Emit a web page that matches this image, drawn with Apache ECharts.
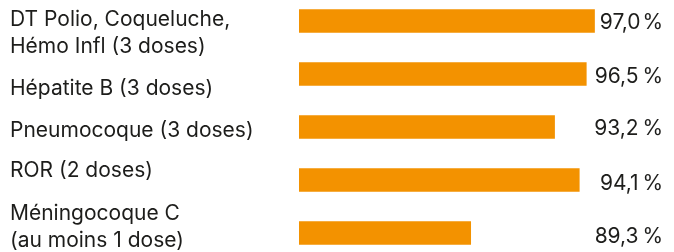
<!DOCTYPE html>
<html>
<head>
<meta charset="utf-8">
<script src="https://cdn.jsdelivr.net/npm/echarts@6/dist/echarts.min.js"></script>
<style>
  html, body { margin: 0; background: #fff; }
  #chart { width: 674px; height: 252px; }
</style>
</head>
<body>
<div id="chart"></div>
<script>
const vaccines = [
  'DT Polio, Coqueluche,\nHémo Infl (3 doses)',
  'Hépatite B (3 doses)',
  'Pneumocoque (3 doses)',
  'ROR (2 doses)',
  'Méningocoque C\n(au moins 1 dose)'
];
// printed coverage rates, as written at the right of each bar
const rateLabels = ['97,0\u200A%', '96,5\u2009%', '93,2\u2009%', '94,1\u2009%', '89,3\u2009%'];
// bar lengths as drawn in the source (0-100 scale) - they don't follow the printed rates exactly
const barLengths = [97.0, 94.3, 83.9, 92.0, 56.4];

const ORANGE = '#f39200';
const TEXT = '#1d1d1b';
const FONT = 'Inter';

// labels don't sit exactly centred on their bars in the source
const pad = d => d >= 0 ? [2 * d, 0, 0, 0] : [0, 0, -2 * d, 0];
function richFor(shifts, base) {
  const rich = {};
  shifts.forEach((d, i) => { rich['s' + i] = Object.assign({ padding: pad(d) }, base); });
  return rich;
}
const tokens = (v, i) => v.split('\n').map(l => '{s' + i + '|' + l + '}').join('\n');

const leftStyle = { color: TEXT, fontFamily: FONT, fontSize: 21, lineHeight: 27.5 };
const rightStyle = { color: TEXT, fontFamily: FONT, fontSize: 21 };

const chart = echarts.init(document.getElementById('chart'));
chart.setOption({
  animation: false,
  grid: { left: 299, top: -5.5, width: 305, height: 265, outerBoundsMode: 'none', containLabel: false },
  xAxis: {
    type: 'value', min: 0, max: 100,
    show: false
  },
  yAxis: [{
    type: 'category',
    inverse: true,
    data: vaccines,
    axisLine: { show: false },
    axisTick: { show: false },
    axisLabel: Object.assign({
      interval: 0, hideOverlap: false,
      align: 'left', margin: 289,
      formatter: tokens,
      rich: richFor([12, 14.4, 3.2, -9.3, -5.8], leftStyle)
    }, leftStyle)
  }, {
    type: 'category',
    inverse: true,
    position: 'right',
    data: rateLabels,
    axisLine: { show: false },
    axisTick: { show: false },
    axisLabel: Object.assign({
      interval: 0, hideOverlap: false,
      align: 'right', margin: 59,
      formatter: tokens,
      rich: richFor([1.5, 3, 2, 3.5, 3.8], rightStyle)
    }, rightStyle)
  }],
  series: [{
    type: 'bar',
    data: barLengths,
    barWidth: 23.5,
    itemStyle: { color: ORANGE },
    silent: true
  }]
});
</script>
</body>
</html>
